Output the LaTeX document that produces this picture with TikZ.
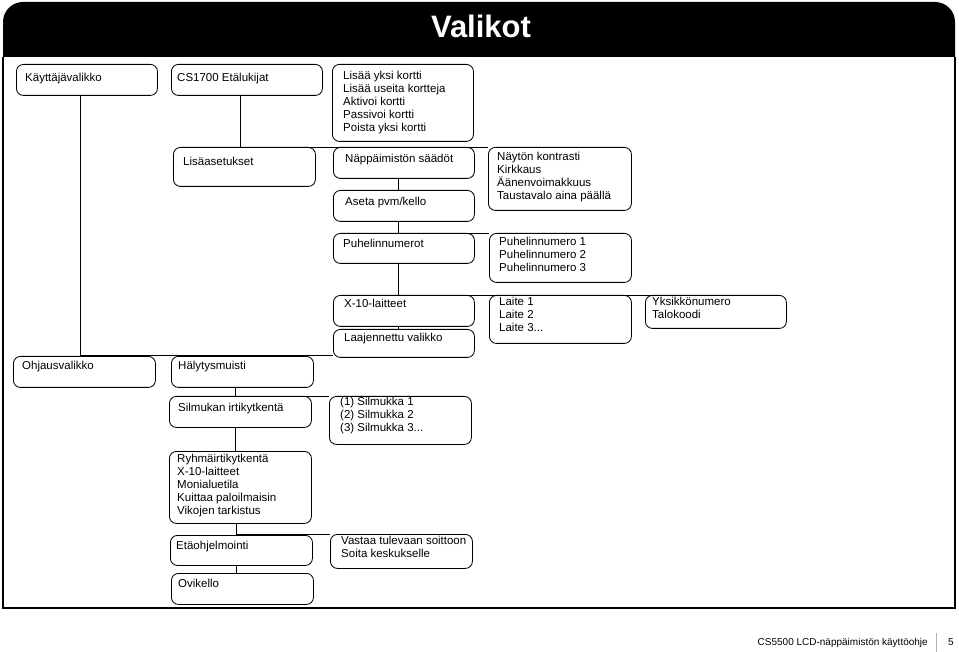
\documentclass[tikz,border=0pt]{standalone}
\usepackage{fontspec}
\setmainfont{Liberation Sans}
\usepackage{tikz}
\usetikzlibrary{positioning}

\tikzset{
  menubox/.style={draw, line width=0.85pt, rounded corners=7pt, anchor=north west, inner sep=0pt},
  menutext/.style={anchor=north west, inner sep=0pt, align=left,
    font=\fontsize{11.5}{13}\selectfont, execute at begin node={\rule{0pt}{10pt}}},
  link/.style={line width=0.85pt}
}

\begin{document}
\begin{tikzpicture}[x=1pt,y=-1pt]
  \useasboundingbox[fill=white] (0,0) rectangle (959,652);
  % header and frame
  \fill (3,57) -- (3,22) arc[start angle=180,end angle=90,radius=20pt] -- (935,2)
    arc[start angle=90,end angle=0,radius=20pt] -- (955,57) -- cycle;
  \draw[line width=1.6pt] (3,57) -- (3,608) -- (955,608) -- (955,57);
  \node[text=white, font=\bfseries\fontsize{31}{31}\selectfont, anchor=base] (title) at (481,38) {Valikot};

  % boxes
  \node[menubox, minimum width=141pt, minimum height=31pt] (kayttaja) at (16,64) {};
  \node[menubox, minimum width=151pt, minimum height=31pt] (cs) at (171,64) {};
  \node[menubox, minimum width=141pt, minimum height=77pt] (lisaa) at (332,64) {};
  \node[menubox, minimum width=142pt, minimum height=39pt] (lisaasetukset) at (173,147) {};
  \node[menubox, minimum width=141pt, minimum height=31pt] (nappaimisto) at (333,147) {};
  \node[menubox, minimum width=143pt, minimum height=63pt] (naytto) at (488,147) {};
  \node[menubox, minimum width=141pt, minimum height=31pt] (aseta) at (333,190) {};
  \node[menubox, minimum width=141pt, minimum height=30pt] (puhelin) at (333,233) {};
  \node[menubox, minimum width=142pt, minimum height=49pt] (puhlist) at (489,233) {};
  \node[menubox, minimum width=141pt, minimum height=31pt] (x10) at (333,295) {};
  \node[menubox, minimum width=142pt, minimum height=48pt] (laite) at (489,295) {};
  \node[menubox, minimum width=141pt, minimum height=33pt] (yksikko) at (645,295) {};
  \node[menubox, minimum width=141pt, minimum height=28pt] (laaj) at (333,329) {};
  \node[menubox, minimum width=142pt, minimum height=31pt] (ohjaus) at (13,356) {};
  \node[menubox, minimum width=142pt, minimum height=31pt] (halytys) at (171,356) {};
  \node[menubox, minimum width=142pt, minimum height=31pt] (silmirti) at (169,396) {};
  \node[menubox, minimum width=142pt, minimum height=48pt] (silmlist) at (329,396) {};
  \node[menubox, minimum width=142pt, minimum height=72pt] (ryhma) at (169,451) {};
  \node[menubox, minimum width=142pt, minimum height=30pt] (etao) at (170,535) {};
  \node[menubox, minimum width=142pt, minimum height=34pt] (vastaa) at (330,534) {};
  \node[menubox, minimum width=142pt, minimum height=31pt] (ovikello) at (171,573) {};

  % texts
  \node[menutext] (kayttaja-t) at (25,71) {Käyttäjävalikko};
  \node[menutext] (cs-t) at (177,71) {CS1700 Etälukijat};
  \node[menutext] (lisaa-t) at (343,71) {Lisää yksi kortti\\Lisää useita kortteja\\Aktivoi kortti\\Passivoi kortti\\Poista yksi kortti};
  \node[menutext] (lisaasetukset-t) at (183,155) {Lisäasetukset};
  \node[menutext] (nappaimisto-t) at (345,152) {Näppäimistön säädöt};
  \node[menutext] (naytto-t) at (497,152) {Näytön kontrasti\\Kirkkaus\\Äänenvoimakkuus\\Taustavalo aina päällä};
  \node[menutext] (aseta-t) at (345,195) {Aseta pvm/kello};
  \node[menutext] (puhelin-t) at (343,237) {Puhelinnumerot};
  \node[menutext] (puhlist-t) at (499,237) {Puhelinnumero 1\\Puhelinnumero 2\\Puhelinnumero 3};
  \node[menutext] (x10-t) at (344,297) {X-10-laitteet};
  \node[menutext] (laite-t) at (499,297) {Laite 1\\Laite 2\\Laite 3...};
  \node[menutext] (yksikko-t) at (652,297) {Yksikkönumero\\Talokoodi};
  \node[menutext] (laaj-t) at (344,331) {Laajennettu valikko};
  \node[menutext] (ohjaus-t) at (22,359) {Ohjausvalikko};
  \node[menutext] (halytys-t) at (178,359) {Hälytysmuisti};
  \node[menutext] (silmirti-t) at (178,401) {Silmukan irtikytkentä};
  \node[menutext] (silmlist-t) at (340,397) {(1) Silmukka 1\\(2) Silmukka 2\\(3) Silmukka 3...};
  \node[menutext] (ryhma-t) at (177,454) {Ryhmäirtikytkentä\\X-10-laitteet\\Monialuetila\\Kuittaa paloilmaisin\\Vikojen tarkistus};
  \node[menutext] (etao-t) at (176,539) {Etäohjelmointi};
  \node[menutext] (vastaa-t) at (341,536) {Vastaa tulevaan soittoon\\Soita keskukselle};
  \node[menutext] (ovikello-t) at (178,577) {Ovikello};

  % connectors
  \coordinate (ohjausjoin) at (333,355);
  \draw[link] ([xshift=-6.5pt]kayttaja.south) |- (ohjausjoin);
  \draw[link] ([xshift=-6.5pt]cs.south) |- (naytto.north west);
  \draw[link] ([xshift=-5.5pt]nappaimisto.south) -- ([xshift=-5.5pt]aseta.north);
  \draw[link] ([xshift=-5.5pt]aseta.south) |- (puhlist.north west);
  \draw[link] ([xshift=-5.5pt]puhelin.south) |- ([xshift=18pt]yksikko.north west);
  \draw[link] ([xshift=-5.5pt]x10.south) -- ([xshift=-5.5pt]laaj.north);
  \draw[link] ([xshift=-7pt]halytys.south) |- (silmlist.north west);
  \draw[link] ([xshift=-5pt]silmirti.south) -- ([xshift=-5pt]ryhma.north);
  \draw[link] ([xshift=-4pt]ryhma.south) |- (vastaa.north west);
  \draw[link] ([xshift=-5pt]etao.south) -- ([xshift=-5pt]etao.south |- ovikello.north);

  % footer
  \node[anchor=base east, inner sep=0pt, font=\fontsize{10}{12}\selectfont] (footer) at (928,645) {CS5500 LCD-näppäimistön käyttöohje};
  \draw[gray!60, line width=0.5pt] (936,633) -- (936,652);
  \node[anchor=base, inner sep=0pt, font=\fontsize{10}{12}\selectfont] (pagenum) at (951,645) {5};
\end{tikzpicture}
\end{document}
